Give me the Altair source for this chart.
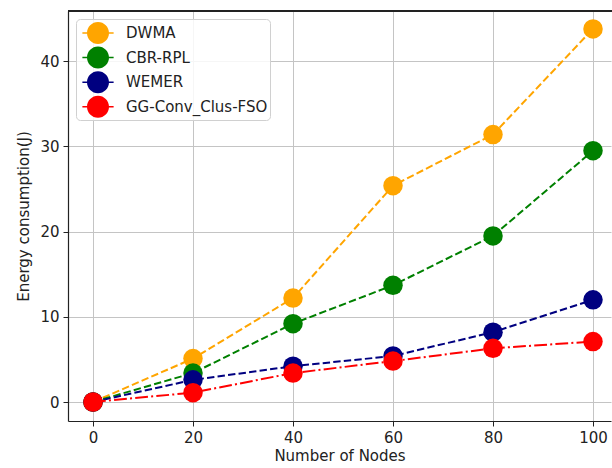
import altair as alt
import pandas as pd

nodes = [0, 20, 40, 60, 80, 100]
series_names = ["DWMA", "CBR-RPL", "WEMER", "GG-Conv_Clus-FSO"]
dwma = [0.0, 5.1, 12.2, 25.4, 31.4, 43.8]
cbr_rpl = [0.0, 3.4, 9.2, 13.7, 19.5, 29.5]
wemer = [0.0, 2.6, 4.2, 5.4, 8.2, 12.0]
gg_fso = [0.0, 1.1, 3.4, 4.8, 6.3, 7.1]
colors = ["#FFA500", "#008000", "#000080", "#FF0000"]
dashes = [[7.4, 3.2], [7.4, 3.2], [7.4, 3.2], [12.8, 3.2, 2, 3.2]]

values = [dwma, cbr_rpl, wemer, gg_fso]
rows = []
for name, vals in zip(series_names, values):
    for n, v in zip(nodes, vals):
        rows.append({"series": name, "nodes": n, "energy": v})
df = pd.DataFrame(rows)

FONT = "DejaVu Sans"
FS = 15

x_enc = alt.X("nodes:Q", scale=alt.Scale(domain=[-5, 103.6], nice=False, zero=False),
              axis=alt.Axis(values=[0, 20, 40, 60, 80, 100], title="Number of Nodes",
                            format="d"))
y_enc = alt.Y("energy:Q", scale=alt.Scale(domain=[-2.23, 45.9], nice=False, zero=False),
              axis=alt.Axis(values=[0, 10, 20, 30, 40], title="Energy consumption(J)",
                            format="d"))

color_scale = alt.Scale(domain=series_names, range=colors)

# legend symbol: circle with short line stubs on both sides
sym = ("M -1.42 -0.07 L -0.98 -0.07 L -0.98 0.07 L -1.42 0.07 Z "
       "M 0.98 -0.07 L 1.42 -0.07 L 1.42 0.07 L 0.98 0.07 Z "
       "M 1 0 A 1 1 0 1 1 -1 0 A 1 1 0 1 1 1 0 Z")

legend = alt.Legend(title=None, orient="none", legendX=8, legendY=8,
                    symbolType=sym, symbolSize=484,
                    symbolOffset=8, labelOffset=16,
                    rowPadding=1.6, padding=2,
                    labelFont=FONT, labelFontSize=FS,
                    labelColor="#222",
                    strokeColor="#d0d0d0", fillColor="rgba(255,255,255,0.85)",
                    cornerRadius=4)

base = alt.Chart(df)
layers = []
for name, dash, col in zip(series_names, dashes, colors):
    sub = base.transform_filter(alt.datum.series == name)
    line = sub.mark_line(strokeWidth=2, strokeDash=dash, color=col).encode(
        x=x_enc, y=y_enc)
    pts = sub.mark_point(filled=True, size=380, opacity=1).encode(
        x=x_enc, y=y_enc,
        color=alt.Color("series:N", scale=color_scale, legend=legend))
    layers.append(line)
    layers.append(pts)

top_rule = alt.Chart(df).mark_rule(color="#222", strokeWidth=1.2).encode(
    x=alt.value(0), x2=alt.value(544), y=alt.value(0))

chart = alt.layer(*layers, top_rule).properties(
    width=543, height=410,
    autosize=alt.AutoSizeParams(type="none"),
    padding={"left": 68, "top": 11, "right": 1, "bottom": 47},
    background="white",
).configure_view(stroke=None).configure_axis(
    labelFont=FONT, titleFont=FONT, labelFontSize=FS, titleFontSize=FS,
    titleFontWeight="normal", labelColor="#222", titleColor="#222",
    grid=True, gridColor="#c4c4c4", gridWidth=1,
    domainColor="#222", domainWidth=1.2, tickColor="#222", tickSize=5,
    labelPadding=4,
).configure_axisY(titlePadding=8).configure_axisX(titlePadding=3)

chart.save("out.html", embed_options={"renderer": "svg", "actions": False})
